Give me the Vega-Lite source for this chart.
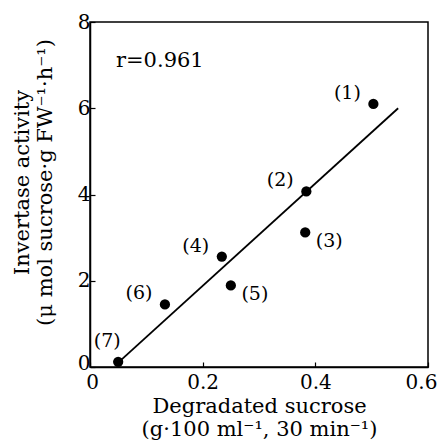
{
  "$schema": "https://vega.github.io/schema/vega-lite/v6.json",
  "width": 338,
  "height": 345,
  "autosize": {"type": "none"},
  "padding": {"left": 90, "top": 22, "right": 11, "bottom": 78},
  "background": "white",
  "config": {
    "view": {"stroke": "black", "strokeWidth": 1.5},
    "font": "DejaVu Serif",
    "axis": {
      "grid": false,
      "domainColor": "black",
      "domainWidth": 1.5,
      "tickColor": "black",
      "tickWidth": 1.2,
      "tickSize": -5,
      "labelFont": "DejaVu Serif",
      "labelFontSize": 20,
      "labelColor": "black",
      "labelFlush": false,
      "titleFont": "DejaVu Serif",
      "titleFontSize": 21,
      "titleLineHeight": 23,
      "titleFontWeight": "normal",
      "titleColor": "black"
    }
  },
  "datasets": {
    "pts": [
      {"id": "(1)", "x": 0.503, "y": 6.10, "grp": "ul"},
      {"id": "(2)", "x": 0.384, "y": 4.07, "grp": "ul"},
      {"id": "(3)", "x": 0.382, "y": 3.12, "grp": "r"},
      {"id": "(4)", "x": 0.234, "y": 2.56, "grp": "ul"},
      {"id": "(5)", "x": 0.250, "y": 1.89, "grp": "r"},
      {"id": "(6)", "x": 0.133, "y": 1.45, "grp": "ul"},
      {"id": "(7)", "x": 0.050, "y": 0.12, "grp": "u"}
    ],
    "fit": [
      {"x": 0.05, "y": 0.10},
      {"x": 0.547, "y": 6.0}
    ],
    "note": [
      {"x": 0.124, "y": 7.1, "label": "r=0.961"}
    ]
  },
  "layer": [
    {
      "data": {"name": "fit"},
      "mark": {"type": "line", "color": "black", "strokeWidth": 1.8},
      "encoding": {
        "x": {"field": "x", "type": "quantitative", "scale": {"domain": [0, 0.6], "nice": false},
          "axis": {"values": [0, 0.2, 0.4, 0.6], "format": "~g", "labelPadding": 10,
            "labelOffset": {"expr": "datum.value == 0.6 ? -7 : (datum.value == 0 ? 2 : 0)"},
            "title": ["Degradated sucrose", "(g·100 ml⁻¹, 30 min⁻¹)"], "titlePadding": 3}},
        "y": {"field": "y", "type": "quantitative", "scale": {"domain": [0, 8], "nice": false},
          "axis": {"values": [0, 2, 4, 6, 8], "labelPadding": 5,
            "labelOffset": {"expr": "datum.value == 0 ? -4 : 0"},
            "title": ["Invertase activity", "(μ mol sucrose·g FW⁻¹·h⁻¹)"], "titlePadding": 22, "titleY": 160}}
      }
    },
    {
      "data": {"name": "pts"},
      "mark": {"type": "circle", "color": "black", "opacity": 1, "size": 105},
      "encoding": {
        "x": {"field": "x", "type": "quantitative"},
        "y": {"field": "y", "type": "quantitative"}
      }
    },
    {
      "data": {"name": "pts"},
      "transform": [{"filter": "datum.grp == 'ul'"}],
      "mark": {"type": "text", "font": "DejaVu Serif", "fontSize": 19, "color": "black", "dx": -26, "dy": -11},
      "encoding": {
        "x": {"field": "x", "type": "quantitative"},
        "y": {"field": "y", "type": "quantitative"},
        "text": {"field": "id"}
      }
    },
    {
      "data": {"name": "pts"},
      "transform": [{"filter": "datum.grp == 'r'"}],
      "mark": {"type": "text", "font": "DejaVu Serif", "fontSize": 19, "color": "black", "dx": 24, "dy": 9},
      "encoding": {
        "x": {"field": "x", "type": "quantitative"},
        "y": {"field": "y", "type": "quantitative"},
        "text": {"field": "id"}
      }
    },
    {
      "data": {"name": "pts"},
      "transform": [{"filter": "datum.grp == 'u'"}],
      "mark": {"type": "text", "font": "DejaVu Serif", "fontSize": 19, "color": "black", "dx": -11, "dy": -21},
      "encoding": {
        "x": {"field": "x", "type": "quantitative"},
        "y": {"field": "y", "type": "quantitative"},
        "text": {"field": "id"}
      }
    },
    {
      "data": {"name": "note"},
      "mark": {"type": "text", "font": "DejaVu Serif", "fontSize": 21, "color": "black"},
      "encoding": {
        "x": {"field": "x", "type": "quantitative"},
        "y": {"field": "y", "type": "quantitative"},
        "text": {"field": "label"}
      }
    }
  ]
}
